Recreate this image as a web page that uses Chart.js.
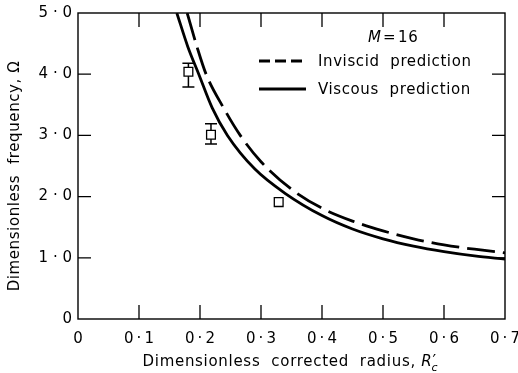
<!DOCTYPE html>
<html>
<head>
<meta charset="utf-8">
<script src="https://cdn.jsdelivr.net/npm/chart.js@4"></script>
<style>
  html, body { margin: 0; padding: 0; background: #fff; }
  #wrap { width: 518px; height: 373px; }
</style>
</head>
<body>
<div id="wrap"><canvas id="omegaChart" width="518" height="373"></canvas></div>
<script>
// values
const xTickLabels = ['0', '0\u2009·\u20091', '0\u2009·\u20092', '0\u2009·\u20093', '0\u2009·\u20094', '0\u2009·\u20095', '0\u2009·\u20096', '0\u2009·\u20097'];
const yTickLabels = ['0', '1 · 0', '2 · 0', '3 · 0', '4 · 0', '5 · 0'];

// viscous prediction (solid)
const viscousR     = [0.162, 0.180, 0.198, 0.220, 0.245, 0.290, 0.340, 0.400, 0.450, 0.500, 0.550, 0.600, 0.650, 0.700];
const viscousOmega = [5.00, 4.45, 4.00, 3.45, 3.00, 2.45, 2.05, 1.69, 1.47, 1.31, 1.19, 1.10, 1.03, 0.98];

// inviscid prediction (dashed)
const inviscidR     = [0.179, 0.195, 0.210, 0.238, 0.266, 0.300, 0.350, 0.400, 0.450, 0.500, 0.550, 0.600, 0.650, 0.700];
const inviscidOmega = [5.00, 4.45, 4.00, 3.46, 3.00, 2.57, 2.12, 1.81, 1.60, 1.44, 1.31, 1.21, 1.14, 1.08];

// experiment (squares + error bars)
const expR     = [0.181, 0.218, 0.329];
const expOmega = [4.04, 3.01, 1.91];
const errLow   = [3.79, 2.86, null];
const errHigh  = [4.18, 3.19, null];

const FONT = "'DejaVu Sans', sans-serif";

const toPts = (xs, ys) => xs.map((x, i) => ({ x: x, y: ys[i] }));

// frame, inward ticks, error bars, legend and axis titles
const framePlugin = {
  id: 'frame',
  beforeDatasetsDraw(chart) {
    const { ctx, chartArea: a, scales } = chart;
    ctx.save();
    ctx.strokeStyle = '#000';
    ctx.lineWidth = 1.4;
    ctx.strokeRect(a.left, a.top, a.right - a.left, a.bottom - a.top);
    ctx.lineWidth = 1.3;
    ctx.beginPath();
    scales.x.ticks.forEach((t, i) => {
      if (i === 0 || i === scales.x.ticks.length - 1) return;
      const px = scales.x.getPixelForValue(t.value);
      ctx.moveTo(px, a.bottom); ctx.lineTo(px, a.bottom - 14);
      ctx.moveTo(px, a.top); ctx.lineTo(px, a.top + 14);
    });
    scales.y.ticks.forEach((t, i) => {
      if (i === 0 || i === scales.y.ticks.length - 1) return;
      const py = scales.y.getPixelForValue(t.value);
      ctx.moveTo(a.left, py); ctx.lineTo(a.left + 13, py);
      ctx.moveTo(a.right, py); ctx.lineTo(a.right - 13, py);
    });
    ctx.stroke();

    // error bars
    ctx.lineWidth = 1.5;
    ctx.beginPath();
    expR.forEach((r, i) => {
      if (errLow[i] == null) return;
      const px = scales.x.getPixelForValue(r);
      const lo = scales.y.getPixelForValue(errLow[i]);
      const hi = scales.y.getPixelForValue(errHigh[i]);
      ctx.moveTo(px, lo); ctx.lineTo(px, hi);
      ctx.moveTo(px - 6, lo); ctx.lineTo(px + 6, lo);
      ctx.moveTo(px - 6, hi); ctx.lineTo(px + 6, hi);
    });
    ctx.stroke();
    ctx.restore();
  },
  afterDraw(chart) {
    const { ctx } = chart;
    const a = chart.chartArea;
    ctx.save();
    ctx.fillStyle = '#000';
    ctx.textBaseline = 'middle';
    ctx.textAlign = 'left';
    ctx.letterSpacing = '0.6px';

    // legend
    ctx.font = 'italic 15px ' + FONT;
    ctx.fillText('M', 368, 38);
    ctx.font = '15px ' + FONT;
    ctx.fillText('=', 383, 38);
    ctx.fillText('16', 398, 38);

    ctx.fillText('Inviscid  prediction', 318, 62);
    ctx.fillText('Viscous  prediction', 318, 90);

    ctx.strokeStyle = '#000';
    ctx.lineWidth = 3;
    ctx.setLineDash([11, 5]);
    ctx.beginPath();
    ctx.moveTo(259, 61); ctx.lineTo(306, 61);
    ctx.stroke();
    ctx.setLineDash([]);
    ctx.beginPath();
    ctx.moveTo(259, 89); ctx.lineTo(306, 89);
    ctx.stroke();

    // x axis title with R'_c
    ctx.letterSpacing = '0.7px';
    const main = 'Dimensionless  corrected  radius, ';
    ctx.font = '15px ' + FONT;
    const w1 = ctx.measureText(main).width;
    ctx.font = 'italic 15px ' + FONT;
    const w2 = ctx.measureText('R').width;
    const total = w1 + w2 + 8;
    const cx = (a.left + a.right) / 2;
    const x0 = cx - total / 2;
    ctx.font = '15px ' + FONT;
    ctx.fillText(main, x0, 362);
    ctx.font = 'italic 15px ' + FONT;
    ctx.fillText('R', x0 + w1, 362);
    ctx.font = '16px ' + FONT;
    ctx.fillText('\u2032', x0 + w1 + w2, 362);
    ctx.font = 'italic 11px ' + FONT;
    ctx.fillText('c', x0 + w1 + w2 - 1, 368);

    // y axis title
    ctx.letterSpacing = '0.6px';
    ctx.translate(15, (a.top + a.bottom) / 2 + 10);
    ctx.rotate(-Math.PI / 2);
    ctx.textAlign = 'center';
    ctx.font = '15px ' + FONT;
    ctx.fillText('Dimensionless  frequency, Ω', 0, 0);
    ctx.restore();
  }
};

const ctx = document.getElementById('omegaChart');
new Chart(ctx, {
  type: 'scatter',
  data: {
    datasets: [
      {
        label: 'Experiment',
        data: toPts(expR, expOmega),
        pointStyle: 'rect',
        pointRadius: 6.2,
        pointBorderWidth: 1.3,
        pointBorderColor: '#000',
        pointBackgroundColor: '#fff',
        showLine: false
      },
      {
        label: 'Viscous prediction',
        data: toPts(viscousR, viscousOmega),
        showLine: true,
        borderColor: '#000',
        borderWidth: 2.8,
        pointRadius: 0,
        cubicInterpolationMode: 'monotone'
      },
      {
        label: 'Inviscid prediction',
        data: toPts(inviscidR, inviscidOmega),
        showLine: true,
        borderColor: '#000',
        borderWidth: 2.8,
        borderDash: [28, 8],
        pointRadius: 0,
        cubicInterpolationMode: 'monotone'
      }
    ]
  },
  options: {
    responsive: false,
    animation: false,
    devicePixelRatio: 1,
    layout: { padding: { left: 4, right: 13, top: 13, bottom: 0 } },
    plugins: {
      legend: { display: false },
      tooltip: { enabled: false }
    },
    scales: {
      x: {
        type: 'linear',
        min: 0,
        max: 0.7,
        afterFit: (s) => { s.height = 54; s.paddingLeft = 0; s.paddingRight = 0; },
        grid: { display: false, drawTicks: false },
        border: { display: false },
        ticks: {
          stepSize: 0.1,
          padding: 11,
          color: '#000',
          font: { family: FONT, size: 15 },
          maxRotation: 0,
          callback: (v, i) => xTickLabels[i]
        }
      },
      y: {
        type: 'linear',
        min: 0,
        max: 5,
        afterFit: (s) => { s.width = 74; s.paddingTop = 0; s.paddingBottom = 0; },
        grid: { display: false, drawTicks: false },
        border: { display: false },
        ticks: {
          stepSize: 1,
          padding: 6,
          color: '#000',
          font: { family: FONT, size: 15 },
          callback: (v, i) => yTickLabels[i]
        }
      }
    }
  },
  plugins: [framePlugin]
});
</script>
</body>
</html>
